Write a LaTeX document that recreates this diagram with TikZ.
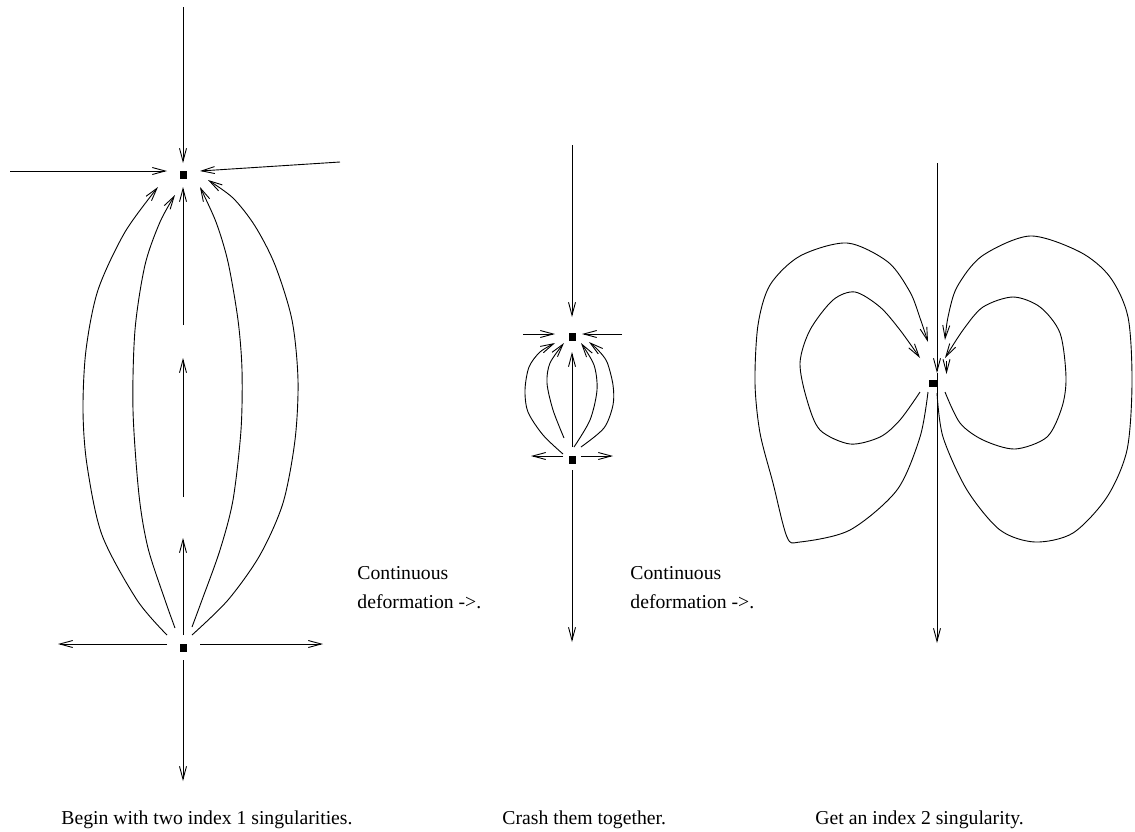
\documentclass[tikz,border=0pt]{standalone}
\usepackage{fontspec}
\setmainfont{Liberation Serif}
\usepackage{tikz}
\usetikzlibrary{arrows.meta}

\begin{document}
\begin{tikzpicture}[x=1pt,y=-1pt,line width=0.9pt,
  sing/.style={fill=black,inner sep=0pt,minimum width=7pt,minimum height=8pt},
  flow/.style={-{Straight Barb[length=13pt,width=7pt]}},
  lbl/.style={anchor=base west,inner sep=0pt,font=\fontsize{19.7}{20}\selectfont}]
\useasboundingbox (0,0) rectangle (1135,831);

% two index 1 singularities
\node[sing] (sa) at (183,175) {};
\node[sing] (sb) at (183,648) {};
\draw[flow] (183,7) -- (183,163);
\draw[flow] (10,171) -- (167,171);
\draw[flow] (340,162) -- (200,171);
\draw[flow] (183,635) -- (183,538);
\draw[flow] (183,497) -- (183,358);
\draw[flow] (183,325) -- (183,187);
\draw[flow] (167,644) -- (58,644);
\draw[flow] (200,644) -- (323,644);
\draw[flow] (183,660) -- (183,781);
\draw[flow] plot[smooth] coordinates {(167,635) (137,600) (102,535) (87,465) (83,410) (86,350) (98,290) (125,232) (158,187)};
\draw[flow] plot[smooth] coordinates {(175,628) (165,600) (148,548) (139,495) (133,410) (135,330) (145,265) (160,222) (175,195)};
\draw[flow] plot[smooth] coordinates {(192,627) (202,600) (220,550) (233,500) (241,430) (242,370) (238,320) (228,262) (216,222) (200,187)};
\draw[flow] plot[smooth] coordinates {(192,635) (228,600) (260,555) (283,503) (295,440) (298,380) (292,320) (275,265) (255,226) (233,198) (208,180)};

% crash them together
\node[sing] (sc) at (572,337) {};
\node[sing] (sd) at (572,460) {};
\draw[flow] (572,145) -- (572,317);
\draw[flow] (523,334) -- (555,334);
\draw[flow] (622,334) -- (582,334);
\draw[flow] (572,447) -- (572,352);
\draw[flow] (563,456) -- (531,456);
\draw[flow] (581,456) -- (613,456);
\draw[flow] (572,470) -- (572,642);
\draw[flow] plot[smooth] coordinates {(563,454) (543,435) (528,412) (525,390) (529,367) (540,352) (555,343)};
\draw[flow] plot[smooth] coordinates {(564,438) (553,410) (547,383) (550,363) (564,343)};
\draw[flow] plot[smooth] coordinates {(574,447) (590,420) (597,390) (594,365) (581,343)};
\draw[flow] plot[smooth] coordinates {(581,447) (604,428) (613,405) (613,385) (607,362) (598,350) (589,342)};

% index 2 singularity
\node[sing,minimum width=9pt,minimum height=7pt] (se) at (933,383) {};
\draw[flow] (937,163) -- (937,373);
\draw[flow] (937,373) -- (937,643);
\draw[flow] (946.5,361) -- (946.5,374);
\draw[flow] plot[smooth] coordinates {(928,392) (920,437) (897,490) (850,530) (800,542) (787,537) (773,483) (760,433) (755,383) (758,325) (770,285) (800,256) (847,243) (888,262) (910,292) (920,318) (928,342)};
\draw[flow] plot[smooth] coordinates {(920,392) (900,420) (880,437) (850,444) (820,430) (807,400) (800,363) (810,330) (833,300) (855,292) (880,307) (900,330) (920,358)};
\draw[flow] plot[smooth] coordinates {(945,392) (960,423) (983,440) (1015,449) (1047,437) (1062,407) (1066,377) (1060,333) (1040,307) (1013,297) (983,307) (963,330) (945,358)};
\draw[flow] plot[smooth] coordinates {(937,393) (943,437) (967,490) (1000,530) (1035,542) (1073,533) (1107,497) (1127,450) (1132,383) (1128,317) (1110,277) (1080,252) (1030,236) (982,256) (957,287) (948,317) (945,340)};

% texts
\node[lbl] (ta) at (357,579) {Continuous};
\node[lbl] (tb) at (357,608) {deformation ->.};
\node[lbl] (tc) at (630,579) {Continuous};
\node[lbl] (td) at (630,608) {deformation ->.};
\node[lbl] (ca) at (61,824) {Begin with two index 1 singularities.};
\node[lbl] (cb) at (502,824) {Crash them together.};
\node[lbl] (cc) at (815,824) {Get an index 2 singularity.};
\end{tikzpicture}
\end{document}
